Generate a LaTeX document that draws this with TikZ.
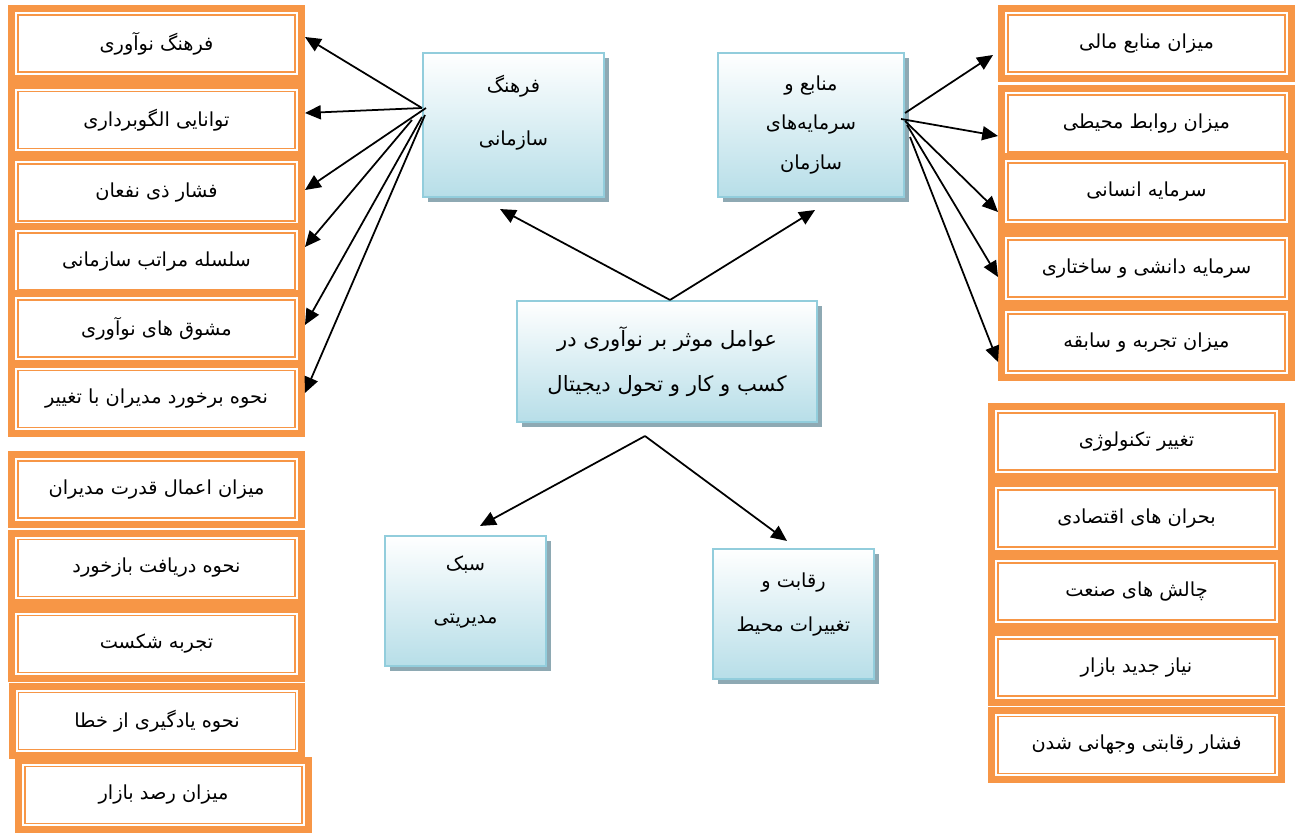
\documentclass[tikz,border=0pt]{standalone}
\usepackage{fontspec}
\newfontfamily\arabicfont[Script=Arabic]{DejaVu Sans}
\TeXXeTstate=1
\usepackage{tikz}
\usetikzlibrary{arrows.meta}
\usetikzlibrary{shadows}
\definecolor{orangeframe}{HTML}{F79646}
\definecolor{blueedge}{HTML}{92CDDC}
\definecolor{bluefill}{HTML}{B7DEE8}
\definecolor{blueshadow}{HTML}{8EA9B3}
\newcommand{\fatxt}[1]{\beginR #1\endR}

\begin{document}
\begin{tikzpicture}[x=0.02cm,y=-0.02cm,
  framebox/.style={draw=orangeframe,line width=1.1pt,fill=white,
    minimum width=5.54cm,minimum height=1.14cm,inner sep=0pt,outer sep=0.2cm,
    preaction={draw=orangeframe,line width=0.4cm},
    preaction={draw=white,line width=0.12cm},
    font=\arabicfont\fontsize{11}{13}\selectfont},
  bluebox/.style={draw=blueedge,line width=1.2pt,top color=white,bottom color=bluefill,
    drop shadow={fill=blueshadow,opacity=1,shadow xshift=0.1cm,shadow yshift=-0.1cm},
    align=center,inner sep=0pt,font=\arabicfont\fontsize{11}{13}\selectfont},
  arr/.style={-{Triangle[length=9pt,width=8pt]},line width=1pt}]
\useasboundingbox (0,0) rectangle (1299,834);

\node[bluebox,minimum width=3.62cm,minimum height=2.88cm] (cult) at (513.5,125) {\fatxt{فرهنگ}\\[0.6cm]\fatxt{سازمانی}\\[4pt]\mbox{}};
\node[bluebox,minimum width=3.72cm,minimum height=2.88cm] (res) at (811,125) {\fatxt{منابع و}\\[0.34cm]\fatxt{سرمایه‌های}\\[0.34cm]\fatxt{سازمان}};
\node[bluebox,minimum width=6cm,minimum height=2.42cm,font=\arabicfont\fontsize{12}{14}\selectfont] (ctr) at (667,361.5) {\fatxt{عوامل موثر بر نوآوری در}\\[0.4cm]\fatxt{کسب و کار و تحول دیجیتال}};
\node[bluebox,minimum width=3.22cm,minimum height=2.6cm] (sabk) at (465.5,601) {\fatxt{سبک}\\[0.6cm]\fatxt{مدیریتی}\\[-0.5pt]\mbox{}};
\node[bluebox,minimum width=3.22cm,minimum height=2.6cm] (req) at (793.5,614) {\fatxt{رقابت و}\\[0.42cm]\fatxt{تغییرات محیط}\\[0.7pt]\mbox{}};

\node[framebox] (l1) at (156.5,43.5) {\fatxt{فرهنگ نوآوری}};
\node[framebox] (l2) at (156.5,120) {\fatxt{توانایی الگوبرداری}};
\node[framebox] (l3) at (156.5,192.5) {\fatxt{فشار ذی نفعان}};
\node[framebox] (l4) at (156.5,261.5) {\fatxt{سلسله مراتب سازمانی}};
\node[framebox] (l5) at (156.5,328.5) {\fatxt{مشوق های نوآوری}};
\node[framebox] (l6) at (156.5,399) {\fatxt{نحوه برخورد مدیران با تغییر}};

\node[framebox] (m1) at (156.5,489.5) {\fatxt{میزان اعمال قدرت مدیران}};
\node[framebox] (m2) at (156.5,568) {\fatxt{نحوه دریافت بازخورد}};
\node[framebox] (m3) at (156.5,644) {\fatxt{تجربه شکست}};
\node[framebox] (m4) at (157,721) {\fatxt{نحوه یادگیری از خطا}};
\node[framebox] (m5) at (163.5,795) {\fatxt{میزان رصد بازار}};

\node[framebox] (r1) at (1146.5,43.5) {\fatxt{میزان منابع مالی}};
\node[framebox] (r2) at (1146.5,123.5) {\fatxt{میزان روابط محیطی}};
\node[framebox] (r3) at (1146.5,191.5) {\fatxt{سرمایه انسانی}};
\node[framebox] (r4) at (1146.5,268.5) {\fatxt{سرمایه دانشی و ساختاری}};
\node[framebox] (r5) at (1146.5,342.5) {\fatxt{میزان تجربه و سابقه}};

\node[framebox] (s1) at (1136.5,441.5) {\fatxt{تغییر تکنولوژی}};
\node[framebox] (s2) at (1136.5,518.5) {\fatxt{بحران های اقتصادی}};
\node[framebox] (s3) at (1136.5,591.5) {\fatxt{چالش های صنعت}};
\node[framebox] (s4) at (1136.5,667.5) {\fatxt{نیاز جدید بازار}};
\node[framebox] (s5) at (1136.5,745) {\fatxt{فشار رقابتی وجهانی شدن}};

\draw[arr] ([xshift=0.06cm]ctr.north) -- ([xshift=-0.27cm,yshift=-0.22cm]cult.south);
\draw[arr] ([xshift=0.06cm]ctr.north) -- ([xshift=0.08cm,yshift=-0.24cm]res.south);
\draw[arr] ([xshift=-0.44cm,yshift=-0.26cm]ctr.south) -- ([xshift=0.29cm,yshift=0.18cm]sabk.north);
\draw[arr] ([xshift=-0.44cm,yshift=-0.26cm]ctr.south) -- ([xshift=-0.13cm,yshift=0.14cm]req.north);

\draw[arr] ([yshift=0.34cm]cult.west) -- ([yshift=0.13cm]l1.east);
\draw[arr] ([yshift=0.34cm]cult.west) -- ([yshift=0.14cm]l2.east);
\draw[arr] ([xshift=0.08cm,yshift=0.34cm]cult.west) -- ([yshift=0.05cm]l3.east);
\draw[arr] ([xshift=-0.2cm,yshift=0.1cm]cult.west) -- ([yshift=0.29cm]l4.east);
\draw[arr] ([yshift=0.16cm]cult.west) -- ([yshift=0.07cm]l5.east);
\draw[arr] ([xshift=0.06cm,yshift=0.2cm]cult.west) -- ([yshift=0.12cm]l6.east);

\draw[arr] ([yshift=0.24cm]res.east) -- ([xshift=-0.1cm,yshift=-0.23cm]r1.west);
\draw[arr] ([xshift=-0.08cm,yshift=0.12cm]res.east) -- ([yshift=-0.25cm]r2.west);
\draw[arr] ([yshift=0.08cm]res.east) -- ([yshift=-0.41cm]r3.west);
\draw[arr] ([xshift=0.04cm]res.east) -- ([yshift=-0.17cm]r4.west);
\draw[arr] ([xshift=0.1cm,yshift=-0.24cm]res.east) -- ([yshift=-0.39cm]r5.west);
\end{tikzpicture}
\end{document}
